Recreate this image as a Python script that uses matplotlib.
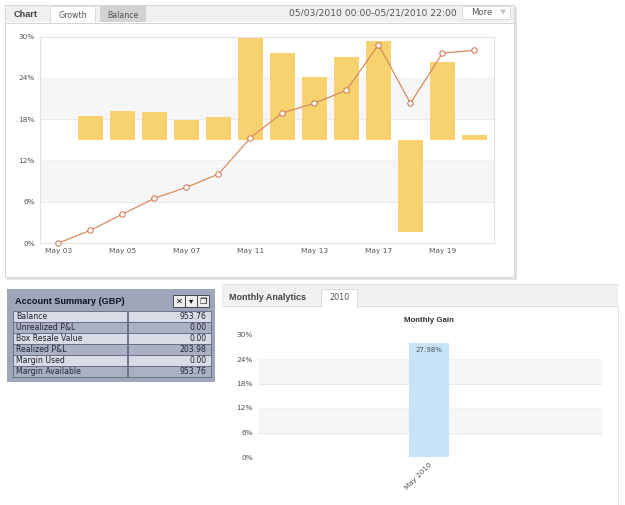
#%% SET_UP

import numpy as np
import matplotlib
matplotlib.use("Agg")
import matplotlib.pyplot as plt
from matplotlib.patches import Rectangle, Polygon

plt.rcParams["font.family"] = ["DejaVu Sans"]

#%% DATA

days = ["May 03", "May 04", "May 05", "May 06", "May 07", "May 10", "May 11",
        "May 12", "May 13", "May 14", "May 17", "May 18", "May 19", "May 20"]
dayLabels = ["May 03", "May 05", "May 07", "May 11", "May 13", "May 17", "May 19"]
growth = [0.0, 1.85, 4.2, 6.5, 8.1, 10.0, 15.3, 18.9, 20.3, 22.2, 28.8, 20.3, 27.6, 27.98]
barBase = 15.0
barEnd = [15.0, 18.5, 19.2, 19.1, 17.9, 18.35, 29.9, 27.66, 24.1, 27.0, 29.4, 1.55, 26.3, 15.7]

months = ["May 2010"]
monthlyGain = [27.98]

pctTicks = [0, 6, 12, 18, 24, 30]
bands = [(6, 12), (18, 24)]

summaryNames = ["Balance", "Unrealized P&L", "Box Resale Value", "Realized P&L",
                "Margin Used", "Margin Available"]
summaryValues = ["953.76", "0.00", "0.00", "203.98", "0.00", "953.76"]

#%% HELPERS

W, H = 625, 505
TXT = "#555555"
BOLD = ["Liberation Sans", "DejaVu Sans"]
fig = plt.figure(figsize=(W/100, H/100), dpi=100, facecolor="white")

# background axes in pixels, y pointing down
bg = fig.add_axes([0, 0, 1, 1], zorder=0)
bg.set_xlim(0, W)
bg.set_ylim(H, 0)
bg.axis("off")


def box(x0, y0, x1, y1, fc, ec="none", lw=0.8, z=1):
    bg.add_patch(Rectangle((x0, y0), x1-x0, y1-y0, facecolor=fc, edgecolor=ec, linewidth=lw, zorder=z))


def pxAxes(x0, y0, x1, y1):
    ax = fig.add_axes([x0/W, 1-y1/H, (x1-x0)/W, (y1-y0)/H], zorder=2)
    ax.patch.set_alpha(0)
    return ax


def pctAxis(ax):
    ax.set_ylim(0, 30)
    ax.set_yticks(pctTicks)
    ax.set_yticklabels([str(t)+"%" for t in pctTicks])
    ax.tick_params(length=0, labelsize=5.3, labelcolor=TXT, pad=3.5)
    for low, high in bands:
        ax.axhspan(low, high, color="#f6f6f6", lw=0, zorder=0)
        ax.axhline(low, color="#e8e8e8", lw=0.7, zorder=0.5)
        ax.axhline(high, color="#f0f0f0", lw=0.7, zorder=0.5)


#%% TOP PANEL

box(7, 7, 517, 280, "#e2e2e2")
box(5, 5, 514, 277, "white", ec="#d8d8d8")
box(5.5, 5.5, 513.5, 22, "#f0f0f0")
bg.plot([5, 514], [22.5, 22.5], color="#d4d4d4", lw=0.7, zorder=2)
bg.text(14, 14.5, "Chart", fontsize=6.6, fontweight="bold", family=BOLD, color="#444444", va="center")

box(50, 6, 94.5, 23, "white", z=3)
bg.plot([50, 50, 94.5, 94.5], [23, 6, 6, 23], color="#dcdcdc", lw=0.7, zorder=3)
bg.text(72.5, 15, "Growth", fontsize=5.7, color=TXT, ha="center", va="center", zorder=4)
box(99.5, 6, 145.5, 22, "#d2d2d2", z=3)
bg.text(122.5, 15, "Balance", fontsize=5.6, color=TXT, ha="center", va="center", zorder=4)

bg.text(457, 12.5, "05/03/2010 00:00-05/21/2010 22:00", fontsize=6.6, color=TXT,
        ha="right", va="center")
box(461.5, 5.5, 509.5, 19, "white", ec="#dcdcdc", lw=0.7, z=3)
bg.text(482, 12.5, "More", fontsize=6.1, color=TXT, ha="center", va="center", zorder=4)
bg.add_patch(Polygon([[500, 9.5], [506, 9.5], [503, 14.5]], facecolor="#c4c4c4", edgecolor="none", zorder=4))

ax1 = pxAxes(40, 36.5, 494, 243)
x = np.arange(len(days))
pctAxis(ax1)
ax1.set_xlim(-0.578, 13.61)
ax1.bar(x, np.array(barEnd)-barBase, bottom=barBase, width=0.81, color="#f8d26e", lw=0, zorder=2)
ax1.plot(x, growth, color="#d98a5f", lw=0.9, marker="o", ms=3.9, mfc="white", mec="#c9704a",
         mew=0.7, clip_on=False, zorder=3)
ax1.set_xticks(x[[0, 2, 4, 6, 8, 10, 12]])
ax1.set_xticklabels(dayLabels)
ax1.tick_params(axis="x", pad=3.5)
for name, spine in ax1.spines.items():
    spine.set_color("#e2e2e2")
    spine.set_linewidth(0.8)

#%% ACCOUNT SUMMARY

box(7, 289, 215, 382, "#9ea6ba")
bg.text(15, 301.5, "Account Summary (GBP)", fontsize=6.6, fontweight="bold", family=BOLD, color="#111122", va="center")
for i, glyph in enumerate(["✕", "▾", "❐"]):
    box(173+12*i, 295, 185+12*i, 307, "#eeeeee", ec="#333344", lw=0.6)
    bg.text(179+12*i, 301, glyph, fontsize=6, fontweight="bold", color="#111111",
            ha="center", va="center", zorder=3)

rowTop = 310.5
rowH = 11.05
for i, (name, value) in enumerate(zip(summaryNames, summaryValues)):
    fill = "#d9dce6" if i % 2 == 0 else "#aab1c4"
    y0 = rowTop + i*rowH
    box(13, y0, 127, y0+rowH, fill, ec="#5f6880", lw=0.6)
    box(127.5, y0, 211, y0+rowH, fill, ec="#5f6880", lw=0.6)
    bg.text(16.5, y0+rowH/2, name, fontsize=5.6, color="#222233", va="center", zorder=3)
    bg.text(206.5, y0+rowH/2, value, fontsize=5.6, color="#222233", ha="right", va="center", zorder=3)

#%% MONTHLY ANALYTICS

box(222, 285, 618, 306, "#f1f1f1")
bg.plot([222, 618], [283.5, 283.5], color="#e4e4e4", lw=0.7, zorder=2)
bg.plot([222, 618], [306, 306], color="#dddddd", lw=0.7, zorder=2)
bg.plot([618, 618], [306, 505], color="#e2e2e2", lw=0.8, zorder=2)
bg.text(229, 297, "Monthly Analytics", fontsize=6.5, fontweight="bold", family=BOLD, color="#444444", va="center", zorder=3)
box(321, 288.5, 357, 307, "white", z=3)
bg.plot([321, 321, 357, 357], [307, 288.5, 288.5, 307], color="#dcdcdc", lw=0.7, zorder=3)
bg.text(339, 297.5, "2010", fontsize=5.8, color=TXT, ha="center", va="center", zorder=4)
bg.text(428.5, 320, "Monthly Gain", fontsize=5.7, fontweight="bold", family=BOLD, color="#333333", ha="center", va="center")

ax2 = pxAxes(258, 334.5, 602, 457)
pctAxis(ax2)
ax2.set_xlim(-2.156, 2.176)
ax2.bar(range(len(months)), monthlyGain, width=0.5, color="#c8e3f7", lw=0, zorder=2)
for i, gain in enumerate(monthlyGain):
    ax2.text(i, gain-1.0, "%.2f%%" % gain, fontsize=5.1, color="#445566", ha="center", va="top", zorder=3)
ax2.set_xticks(range(len(months)))
ax2.set_xticklabels(months, rotation=45, ha="right", rotation_mode="anchor", fontsize=5.2)
for spine in ax2.spines.values():
    spine.set_visible(False)

plt.savefig("out.png", dpi=100)
